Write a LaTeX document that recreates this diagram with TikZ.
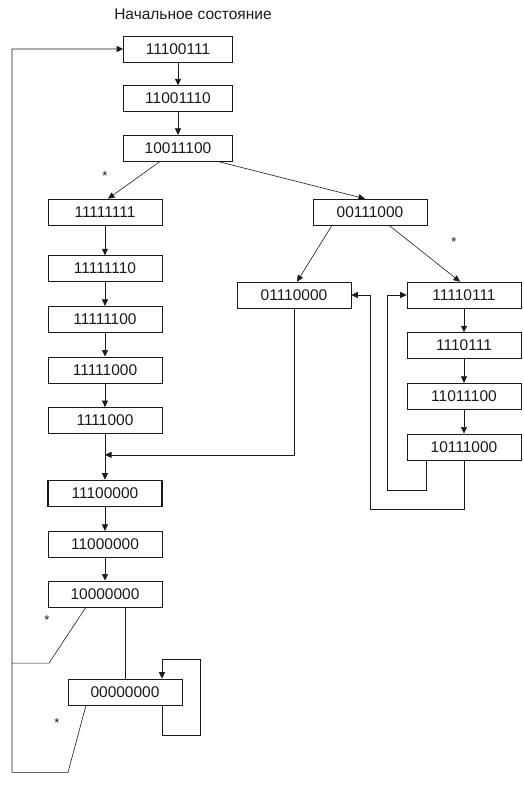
\documentclass[tikz,border=0pt]{standalone}
\usepackage{fontspec}
\setmainfont{Liberation Sans}
\usetikzlibrary{positioning,calc,arrows.meta}
\definecolor{SInk}{HTML}{1A1A1A}
\definecolor{SBg}{HTML}{FFFFFF}

\begin{document}
\begin{tikzpicture}[x=1pt, y=-1pt,
  node distance=24pt, every node/.style={font=\fontsize{15.5}{17}\selectfont, text=SInk},
  state/.style={draw=SInk, fill=SBg, minimum width=114pt, minimum height=26pt,
                inner sep=0pt, line width=0.6pt},
  narrow/.style={state, minimum width=109pt},
  arrow/.style={-{Triangle[length=6.5pt,width=6pt]}, draw=SInk, line width=0.6pt},
  wire/.style={draw=SInk, line width=0.6pt},
  star/.style={font=\fontsize{13}{14}\selectfont},
]
\useasboundingbox (0,0) rectangle (524,785);
\node (title) at (193,14) {Начальное состояние};
% start chain
\node[narrow] (s1) at (178,49) {11100111};
\node[narrow, below=23pt of s1] (s2) {11001110};
\node[narrow, below=23pt of s2] (s3) {10011100};
% left column
\node[state] (a1) at (105,212) {11111111};
\node[state, below=30pt of a1] (a2) {11111110};
\node[state, below=of a2] (a3) {11111100};
\node[state, below=of a3] (a4) {11111000};
\node[state, below=of a4] (a5) {1111000};
\node[state, below=46pt of a5, line width=1.2pt] (a6) {11100000};
\node[state, below=of a6] (a7) {11000000};
\node[state, below=23pt of a7] (a8) {10000000};
\node[state] (z) at (125,692) {00000000};
% right part
\node[state] (b1) at (370,212) {00111000};
\node[state] (c1) at (294,295) {01110000};
\node[state] (d1) at (464,295) {11110111};
\node[state, below=of d1] (d2) {1110111};
\node[state, below=of d2] (d3) {11011100};
\node[state, below=of d3] (d4) {10111000};
% stars
\node[star] (st1) at (105,176) {*};
\node[star] (st2) at (454,242) {*};
\node[star] (st3) at (47,620) {*};
\node[star] (st4) at (57,723) {*};
\coordinate (rail) at (12,0);
\coordinate (jn) at ($(a5.south)!0.46!(a6.north)$);

\draw[arrow] (s1) -- (s2); \draw[arrow] (s2) -- (s3);
\foreach \u/\v in {a1/a2,a2/a3,a3/a4,a4/a5,a5/a6,a6/a7,a7/a8,d1/d2,d2/d3,d3/d4}
  {\draw[arrow] (\u) -- (\v);}
\draw[arrow] ([xshift=-18pt]s3.south) -- ([xshift=3pt]a1.north);
\draw[arrow] ([xshift=40pt]s3.south) -- ([xshift=-5pt]b1.north);
\draw[arrow] ([xshift=-38pt]b1.south) -- ([xshift=3pt]c1.north);
\draw[arrow] ([xshift=19pt]b1.south) -- ([xshift=-4pt]d1.north);
\draw[arrow] (c1.south) |- (jn);
\draw[arrow] ([xshift=-38pt]d4.south) -- ++(0,30) -- ++(-39,0) |- (d1.west);
\draw[arrow] (d4.south) -- ++(0,49) -- ++(-94,0) |- (c1.east);
\draw[wire] (z.north |- a8.south) -- (z.north);
\draw[arrow] ([xshift=37pt]z.south) -- ++(0,30) -- ++(38,0) -- ++(0,-76) -- ++(-38,0)
  -- ([xshift=37pt]z.north);
\draw[wire] ([xshift=-19pt]a8.south) -- ++(-37,56) -- ++(-37,0);
\draw[arrow] ([xshift=-39pt]z.south) -- ++(-18,67) -| (rail |- s1.west) -- (s1.west);
\end{tikzpicture}
\end{document}
